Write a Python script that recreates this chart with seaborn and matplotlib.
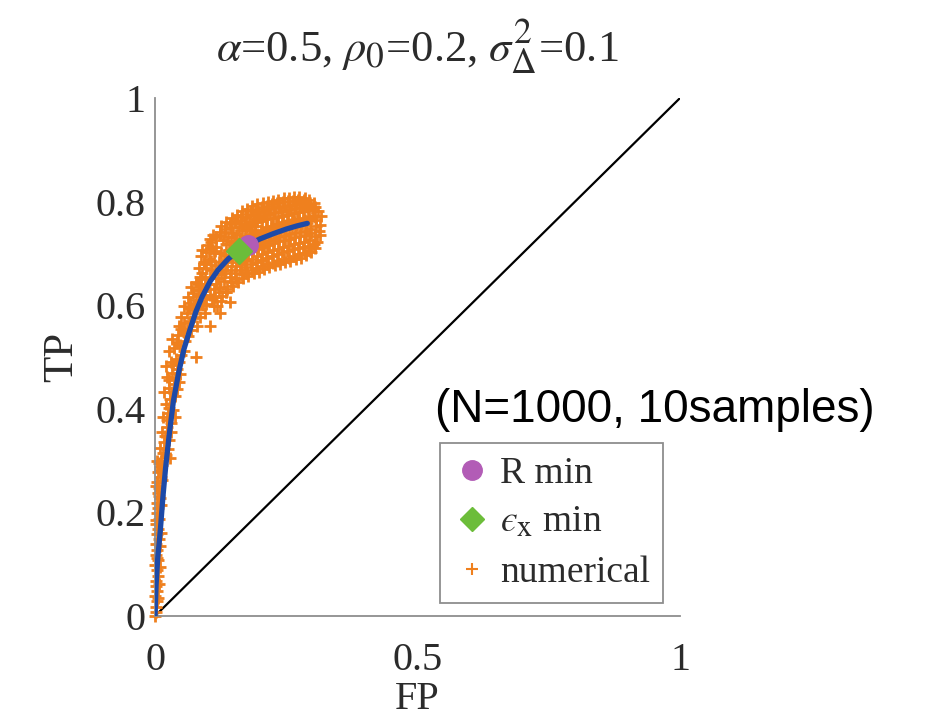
import matplotlib
matplotlib.use("Agg")
import matplotlib.pyplot as plt
import seaborn as sns
import pandas as pd
from matplotlib.lines import Line2D

# Slightly larger sub/superscripts in mathtext, as in the TeX-style title
try:
    import matplotlib._mathtext as _mt
    _mt.SHRINK_FACTOR = 0.8
except Exception:
    pass

# Theoretical ROC curve
fp_curve = [0.000, 0.002, 0.005, 0.010, 0.015, 0.020, 0.027, 0.035, 0.045, 0.055,
            0.065, 0.078, 0.090, 0.105, 0.120, 0.140, 0.160, 0.180, 0.200, 0.225,
            0.250, 0.270, 0.290]
tp_curve = [0.000, 0.060, 0.110, 0.165, 0.230, 0.285, 0.350, 0.415, 0.470, 0.515,
            0.548, 0.588, 0.617, 0.646, 0.668, 0.690, 0.705, 0.718, 0.728, 0.738,
            0.747, 0.753, 0.758]

# Optimal operating points
r_min_fp, r_min_tp = 0.178, 0.716
eps_min_fp, eps_min_tp = 0.160, 0.705

# Diagonal (chance level)
diag = [0.0, 1.0]

# Numerical estimates (N=1000, 10 samples)
fp_num = [
    # near the origin
    0.000, 0.002, 0.001, 0.003, 0.000, 0.004, 0.002, 0.001, 0.005, 0.003,
    0.000, 0.006, 0.002, 0.004, 0.001, 0.007, 0.003, 0.005, 0.002, 0.008,
    0.004, 0.006, 0.003, 0.009, 0.005, 0.007, 0.004, 0.011, 0.006, 0.009,
    0.013, 0.008,
    0.006, 0.008, 0.010, 0.003, 0.009, 0.011, 0.001, 0.012, 0.008, 0.002,
    0.013, 0.010, 0.003,
    # steep rise
    0.012, 0.020, 0.028, 0.010, 0.018, 0.026, 0.014, 0.022, 0.031, 0.016,
    0.025, 0.034, 0.020, 0.029, 0.038, 0.017, 0.027, 0.036, 0.045, 0.022,
    0.032, 0.041, 0.020, 0.030, 0.039, 0.050, 0.027, 0.037, 0.047, 0.058,
    0.033, 0.044, 0.055, 0.068, 0.078,
    0.015, 0.024, 0.019, 0.030, 0.023, 0.038, 0.026, 0.033, 0.042, 0.026,
    0.038, 0.048, 0.035, 0.046, 0.056, 0.042, 0.062, 0.050,
    # knee
    0.045, 0.055, 0.066, 0.080, 0.050, 0.060, 0.072, 0.085, 0.055, 0.066,
    0.078, 0.092, 0.062, 0.072, 0.084, 0.105, 0.124, 0.143, 0.113, 0.068,
    0.078, 0.088, 0.096, 0.135,
    0.060, 0.072, 0.064, 0.088, 0.075, 0.095,
    # upper cloud
    0.079, 0.083, 0.081, 0.085,
    0.088, 0.092, 0.090, 0.094, 0.089,
    0.098, 0.101, 0.097, 0.103, 0.100,
    0.108, 0.112, 0.109, 0.113, 0.107, 0.111,
    0.118, 0.122, 0.119, 0.121, 0.117, 0.123,
    0.128, 0.132, 0.127, 0.131, 0.129, 0.133,
    0.138, 0.142, 0.137, 0.141, 0.139, 0.143,
    0.148, 0.152, 0.147, 0.151, 0.149, 0.153,
    0.158, 0.162, 0.157, 0.161, 0.159, 0.163,
    0.168, 0.172, 0.167, 0.171, 0.169, 0.173, 0.170,
    0.178, 0.182, 0.177, 0.181, 0.179, 0.183, 0.180,
    0.188, 0.192, 0.187, 0.191, 0.189, 0.193, 0.190,
    0.198, 0.202, 0.197, 0.201, 0.199, 0.203, 0.200,
    0.208, 0.212, 0.207, 0.211, 0.209, 0.213, 0.210,
    0.218, 0.222, 0.217, 0.221, 0.219, 0.223, 0.220,
    0.228, 0.232, 0.227, 0.231, 0.229, 0.233, 0.230,
    0.238, 0.242, 0.237, 0.241, 0.239, 0.243, 0.240,
    0.248, 0.252, 0.247, 0.251, 0.249, 0.253, 0.250,
    0.258, 0.262, 0.257, 0.261, 0.259, 0.263, 0.260,
    0.268, 0.272, 0.267, 0.271, 0.269, 0.273, 0.270,
    0.278, 0.282, 0.277, 0.281, 0.279, 0.283, 0.280,
    0.288, 0.292, 0.287, 0.291, 0.289, 0.293, 0.290,
    0.298, 0.302, 0.297, 0.301, 0.299, 0.303,
    0.308, 0.312, 0.307, 0.311,
    # upper cloud, second layer
    0.085, 0.086, 0.084, 0.087,
    0.095, 0.096, 0.094, 0.097,
    0.105, 0.104, 0.106, 0.105, 0.104,
    0.115, 0.116, 0.114, 0.115, 0.116,
    0.125, 0.124, 0.126, 0.125, 0.124, 0.126,
    0.135, 0.134, 0.136, 0.135, 0.134, 0.136,
    0.145, 0.144, 0.146, 0.145, 0.144, 0.146,
    0.155, 0.154, 0.156, 0.155, 0.154, 0.156,
    0.165, 0.164, 0.166, 0.165, 0.164, 0.166,
    0.175, 0.174, 0.176, 0.175, 0.174, 0.176,
    0.185, 0.184, 0.186, 0.185, 0.184, 0.186, 0.185,
    0.195, 0.194, 0.196, 0.195, 0.194, 0.196, 0.195,
    0.205, 0.204, 0.206, 0.205, 0.204, 0.206, 0.205,
    0.215, 0.214, 0.216, 0.215, 0.214, 0.216, 0.215,
    0.225, 0.224, 0.226, 0.225, 0.224, 0.226, 0.225,
    0.235, 0.234, 0.236, 0.235, 0.234, 0.236, 0.235,
    0.245, 0.244, 0.246, 0.245, 0.244, 0.246, 0.245,
    0.255, 0.254, 0.256, 0.255, 0.254, 0.256, 0.255,
    0.265, 0.264, 0.266, 0.265, 0.264, 0.266, 0.265,
    0.275, 0.274, 0.276, 0.275, 0.274, 0.276, 0.275,
    0.285, 0.284, 0.286, 0.285, 0.284, 0.286, 0.285,
    0.295, 0.294, 0.296, 0.295, 0.294, 0.296,
    0.305, 0.304, 0.306, 0.305, 0.304,
    0.315, 0.314, 0.316,
]
tp_num = [
    # near the origin
    0.000, 0.008, 0.018, 0.028, 0.038, 0.048, 0.058, 0.068, 0.078, 0.088,
    0.098, 0.108, 0.118, 0.128, 0.138, 0.148, 0.158, 0.168, 0.178, 0.188,
    0.198, 0.208, 0.218, 0.228, 0.238, 0.248, 0.258, 0.268, 0.278, 0.288,
    0.292, 0.296,
    0.035, 0.062, 0.095, 0.112, 0.135, 0.160, 0.185, 0.215, 0.232, 0.250,
    0.262, 0.282, 0.300,
    # steep rise
    0.300, 0.310, 0.305, 0.325, 0.335, 0.340, 0.355, 0.365, 0.372, 0.385,
    0.392, 0.398, 0.410, 0.418, 0.425, 0.432, 0.440, 0.447, 0.452, 0.462,
    0.470, 0.476, 0.482, 0.490, 0.497, 0.503, 0.512, 0.518, 0.524, 0.530,
    0.535, 0.542, 0.548, 0.553, 0.500,
    0.315, 0.322, 0.348, 0.356, 0.378, 0.384, 0.402, 0.432, 0.438, 0.455,
    0.460, 0.468, 0.485, 0.490, 0.512, 0.528, 0.540, 0.555,
    # knee
    0.560, 0.565, 0.570, 0.560, 0.578, 0.585, 0.590, 0.578, 0.598, 0.604,
    0.610, 0.600, 0.615, 0.624, 0.630, 0.560, 0.585, 0.607, 0.598, 0.636,
    0.645, 0.650, 0.585, 0.625,
    0.552, 0.575, 0.595, 0.620, 0.600, 0.635,
    # upper cloud
    0.592, 0.618, 0.640, 0.655,
    0.605, 0.628, 0.662, 0.684, 0.706,
    0.603, 0.641, 0.672, 0.690, 0.716,
    0.612, 0.632, 0.668, 0.700, 0.722, 0.735,
    0.598, 0.625, 0.652, 0.683, 0.712, 0.741,
    0.618, 0.646, 0.668, 0.697, 0.725, 0.748,
    0.632, 0.655, 0.676, 0.706, 0.731, 0.757,
    0.638, 0.662, 0.684, 0.722, 0.740, 0.762,
    0.645, 0.668, 0.690, 0.729, 0.751, 0.770,
    0.652, 0.674, 0.697, 0.733, 0.757, 0.776, 0.688,
    0.656, 0.679, 0.700, 0.738, 0.761, 0.781, 0.745,
    0.662, 0.684, 0.704, 0.742, 0.766, 0.786, 0.752,
    0.665, 0.688, 0.709, 0.746, 0.770, 0.789, 0.725,
    0.670, 0.692, 0.713, 0.750, 0.774, 0.792, 0.731,
    0.673, 0.695, 0.717, 0.753, 0.777, 0.796, 0.736,
    0.678, 0.699, 0.720, 0.756, 0.780, 0.798, 0.742,
    0.680, 0.702, 0.723, 0.760, 0.782, 0.800, 0.745,
    0.683, 0.705, 0.726, 0.762, 0.784, 0.801, 0.748,
    0.686, 0.708, 0.728, 0.765, 0.786, 0.802, 0.751,
    0.689, 0.710, 0.731, 0.767, 0.788, 0.803, 0.754,
    0.692, 0.713, 0.733, 0.769, 0.789, 0.804, 0.756,
    0.696, 0.715, 0.736, 0.771, 0.790, 0.803, 0.758,
    0.702, 0.719, 0.739, 0.772, 0.788, 0.798,
    0.722, 0.744, 0.765, 0.781,
    # upper cloud, second layer
    0.608, 0.630, 0.672, 0.695,
    0.615, 0.652, 0.680, 0.702,
    0.620, 0.655, 0.685, 0.708, 0.728,
    0.615, 0.640, 0.678, 0.705, 0.732,
    0.608, 0.635, 0.660, 0.700, 0.735, 0.752,
    0.625, 0.662, 0.688, 0.718, 0.742, 0.760,
    0.645, 0.668, 0.695, 0.724, 0.750, 0.768,
    0.650, 0.675, 0.700, 0.735, 0.758, 0.775,
    0.660, 0.680, 0.722, 0.745, 0.765, 0.782,
    0.662, 0.686, 0.726, 0.750, 0.770, 0.786,
    0.668, 0.690, 0.712, 0.732, 0.755, 0.775, 0.792,
    0.672, 0.695, 0.716, 0.736, 0.760, 0.780, 0.795,
    0.676, 0.698, 0.720, 0.740, 0.762, 0.782, 0.798,
    0.680, 0.702, 0.723, 0.744, 0.766, 0.785, 0.800,
    0.682, 0.706, 0.727, 0.748, 0.768, 0.788, 0.802,
    0.686, 0.709, 0.731, 0.752, 0.771, 0.790, 0.804,
    0.690, 0.712, 0.734, 0.755, 0.773, 0.792, 0.806,
    0.692, 0.715, 0.737, 0.757, 0.775, 0.794, 0.807,
    0.695, 0.718, 0.740, 0.760, 0.778, 0.796, 0.808,
    0.698, 0.720, 0.742, 0.762, 0.780, 0.797, 0.808,
    0.700, 0.722, 0.744, 0.764, 0.782, 0.798, 0.806,
    0.704, 0.726, 0.747, 0.765, 0.783, 0.796,
    0.710, 0.733, 0.752, 0.770, 0.790,
    0.735, 0.755, 0.772,
]

x_ticks = [0, 0.5, 1]
x_tick_labels = ["0", "0.5", "1"]
y_ticks = [0, 0.2, 0.4, 0.6, 0.8, 1]
y_tick_labels = ["0", "0.2", "0.4", "0.6", "0.8", "1"]

ORANGE = "#EF801E"
BLUE = "#1D4AA8"
PURPLE = "#B25CB6"
GREEN = "#6CBD3A"
AXIS_GRAY = "#8E8E8E"
TEXT = "#2B2B2B"

sns.set_theme(style="white")
plt.rcParams["font.family"] = ["Liberation Serif", "DejaVu Serif"]
plt.rcParams["mathtext.fontset"] = "stix"

fig = plt.figure(figsize=(9.34, 7.18), dpi=100)
ax = fig.add_axes([0.1660, 0.1421, 0.5621, 0.7214])

num_df = pd.DataFrame({"FP": fp_num, "TP": tp_num})
curve_df = pd.DataFrame({"FP": fp_curve, "TP": tp_curve})

sns.lineplot(x=diag, y=diag, color="black", linewidth=1.6, ax=ax, zorder=1)
sns.scatterplot(data=num_df, x="FP", y="TP", marker="+", s=80, color=ORANGE,
                linewidth=2.0, ax=ax, zorder=2, clip_on=False)
sns.lineplot(data=curve_df, x="FP", y="TP", sort=False, color=BLUE,
             linewidth=3.8, ax=ax, zorder=3)
ax.plot([r_min_fp], [r_min_tp], marker="o", ms=14, color=PURPLE, ls="", zorder=4)
ax.plot([eps_min_fp], [eps_min_tp], marker="D", ms=13, color=GREEN, ls="", zorder=5)

ax.set_xlim(0, 1)
ax.set_ylim(0, 1)
ax.set_xticks(x_ticks)
ax.set_xticklabels(x_tick_labels)
ax.set_yticks(y_ticks)
ax.set_yticklabels(y_tick_labels)

for side in ("top", "right"):
    ax.spines[side].set_visible(False)
for side in ("left", "bottom"):
    ax.spines[side].set_color(AXIS_GRAY)
    ax.spines[side].set_linewidth(1.3)

ax.tick_params(axis="both", direction="in", length=5, width=1, colors=AXIS_GRAY,
               labelcolor=TEXT, labelsize=29)
ax.tick_params(axis="x", pad=19)
ax.tick_params(axis="y", pad=7)

ax.set_xlabel("FP", fontsize=29, color=TEXT, labelpad=1)
ax.set_ylabel("TP", fontsize=31, color=TEXT, labelpad=10)
ax.set_title(r"$\alpha$=0.5, $\rho_0$=0.2, $\sigma_\Delta^2$=0.1",
             fontsize=32, color=TEXT, pad=26)

handles = [
    Line2D([], [], marker="o", ls="", ms=14, color=PURPLE),
    Line2D([], [], marker="D", ls="", ms=12, color=GREEN),
    Line2D([], [], marker="+", ls="", ms=8, mew=1.5, color=ORANGE),
]
labels = ["R min", "$\u03f5_{\\rm x}$ min", "numerical"]
leg = ax.legend(handles, labels, loc="lower right", bbox_to_anchor=(0.968, 0.025),
                fontsize=27, frameon=True, fancybox=False, framealpha=1,
                edgecolor=AXIS_GRAY, handlelength=1.0, handletextpad=0.25,
                labelspacing=0.4, borderpad=0.35, borderaxespad=0)
leg.get_frame().set_linewidth(1.3)
for t in leg.get_texts():
    t.set_color(TEXT)

fig.text(435 / 934, 1 - 410 / 718, "(N=1000, 10samples)",
         family=["Liberation Sans", "DejaVu Sans"], fontsize=33,
         ha="left", va="center", color="black")

fig.savefig("out.png", dpi=100)
